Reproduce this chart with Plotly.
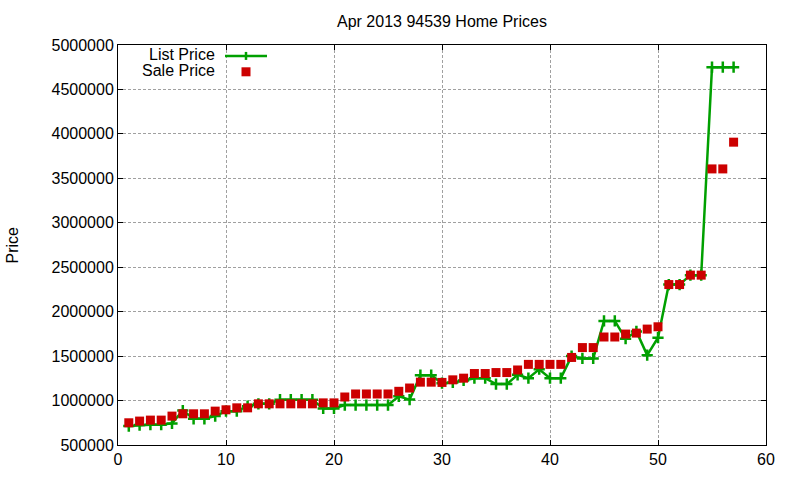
import plotly.graph_objects as go

title_text = "Apr 2013 94539 Home Prices"
y_title = "Price"
series_names = ["List Price", "Sale Price"]

house_index = list(range(1, 58))

list_price = [713000, 724000, 728000, 728000, 743000, 888000, 795000, 795000, 825000, 880000,
              880000, 937000, 963000, 963000, 1010000, 1010000, 1010000, 1010000, 911000, 911000,
              949000, 949000, 949000, 949000, 949000, 1048000, 1011000, 1285000, 1285000, 1196000,
              1204000, 1226000, 1252000, 1252000, 1185000, 1185000, 1289000, 1252000, 1352000, 1252000,
              1252000, 1500000, 1474000, 1474000, 1896000, 1896000, 1696000, 1778000, 1511000, 1707000,
              2305000, 2305000, 2411000, 2411000, 4750000, 4750000, 4750000]

sale_price = [750000, 769000, 780000, 780000, 825000, 851000, 851000, 851000, 881000, 896000,
              918000, 918000, 963000, 963000, 963000, 963000, 963000, 963000, 974000, 974000,
              1040000, 1074000, 1074000, 1074000, 1074000, 1104000, 1141000, 1207000, 1207000, 1204000,
              1233000, 1252000, 1304000, 1304000, 1315000, 1315000, 1344000, 1407000, 1407000, 1407000,
              1407000, 1485000, 1596000, 1596000, 1715000, 1715000, 1748000, 1759000, 1804000, 1830000,
              2305000, 2305000, 2411000, 2411000, 3606000, 3606000, 3907000]

x_ticks = [0, 10, 20, 30, 40, 50, 60]
y_ticks = [500000, 1000000, 1500000, 2000000, 2500000, 3000000, 3500000, 4000000, 4500000, 5000000]

GREEN = "#00a000"
RED = "#cc0000"
FONT = "Liberation Sans, Arial, sans-serif"

fig = go.Figure()
fig.add_trace(go.Scatter(
    x=house_index, y=list_price, mode="lines+markers", name=series_names[0],
    line=dict(color=GREEN, width=2.5),
    marker=dict(symbol="cross-thin", size=8, line=dict(color=GREEN, width=2.5), color=GREEN),
))
fig.add_trace(go.Scatter(
    x=house_index, y=sale_price, mode="markers", name=series_names[1],
    marker=dict(symbol="square", size=9, color=RED, line=dict(width=0)),
))

L, R, T, B = 118, 34, 45, 32
W, H = 800, 480
pw, ph = W - L - R, H - T - B

def px_x(px):
    return (px - L) / pw

def px_y(py):
    return (H - B - py) / ph

axis_common = dict(
    showline=True, linecolor="black", linewidth=1, mirror="ticks",
    ticks="inside", ticklen=5, tickcolor="black", tickwidth=1,
    showgrid=True, gridcolor="#a0a0a0", gridwidth=1, griddash="3px,2px",
    zeroline=False, tickfont=dict(family=FONT, size=16, color="black"),
)

fig.update_layout(
    width=W, height=H,
    margin=dict(l=L, r=R, t=T, b=B, pad=0),
    paper_bgcolor="white", plot_bgcolor="white",
    showlegend=False,
    font=dict(family=FONT, size=16, color="black"),
    xaxis=dict(range=[0, 60], tickvals=x_ticks, ticktext=[str(v) for v in x_ticks], **axis_common),
    yaxis=dict(range=[500000, 5000000], tickvals=y_ticks, ticktext=[str(v) for v in y_ticks], **axis_common),
)

annotations = [
    dict(text=title_text, xref="paper", yref="paper", x=0.5, y=px_y(21),
         xanchor="center", yanchor="middle", showarrow=False, font=dict(size=16)),
    dict(text=y_title, xref="paper", yref="paper", x=px_x(12), y=px_y(247),
         xanchor="center", yanchor="middle", textangle=-90, showarrow=False, font=dict(size=16)),
    dict(text=series_names[0], xref="paper", yref="paper", x=px_x(217), y=px_y(55),
         xanchor="right", yanchor="middle", showarrow=False, font=dict(size=16)),
    dict(text=series_names[1], xref="paper", yref="paper", x=px_x(217), y=px_y(71),
         xanchor="right", yanchor="middle", showarrow=False, font=dict(size=16)),
]
fig.update_layout(annotations=annotations)

shapes = [
    dict(type="line", xref="paper", yref="paper", x0=px_x(225), x1=px_x(267), y0=px_y(56), y1=px_y(56),
         line=dict(color=GREEN, width=2.5)),
    dict(type="line", xref="paper", yref="paper", xsizemode="pixel", ysizemode="pixel",
         xanchor=px_x(246), yanchor=px_y(56), x0=0, x1=0, y0=-4, y1=4,
         line=dict(color=GREEN, width=2.5)),
    dict(type="rect", xref="paper", yref="paper", xsizemode="pixel", ysizemode="pixel",
         xanchor=px_x(246), yanchor=px_y(72), x0=-4.5, x1=4.5, y0=-4.5, y1=4.5,
         fillcolor=RED, line=dict(width=0)),
]
fig.update_layout(shapes=shapes)

fig.write_html("out.html")
